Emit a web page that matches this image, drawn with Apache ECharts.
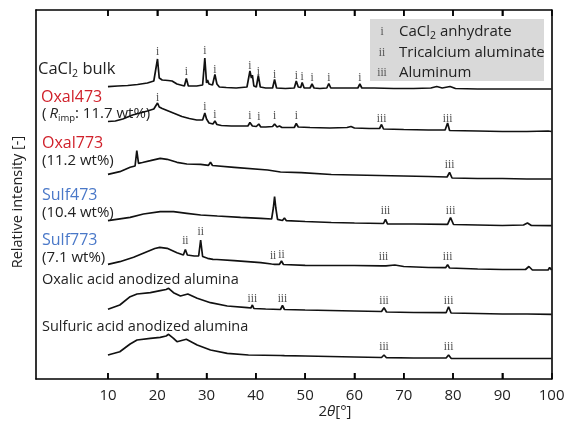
<!DOCTYPE html>
<html><head><meta charset="utf-8">
<script src="https://cdn.jsdelivr.net/npm/echarts@6/dist/echarts.min.js"></script>
<style>html,body{margin:0;padding:0;background:#fff}#c{width:569px;height:425px}</style>
</head><body><div id="c"></div>
<script>
// ---- data (2θ in degrees, relative intensity in arbitrary units) ----
const xTicks = [10, 20, 30, 40, 50, 60, 70, 80, 90, 100];
const traceNames = ['CaCl2 bulk', 'Oxal473', 'Oxal773', 'Sulf473', 'Sulf773', 'Oxalic acid anodized alumina', 'Sulfuric acid anodized alumina'];
const offsets = [280, 240, 195, 150, 105, 60, 15];

const caclBulk = [[10,12.3],[12,13],[14,13.5],[16,14.5],[18,16],[19.3,18],[19.7,20],[20.05,40],[20.4,21],[21,19],[22.2,18.5],[22.6,20],[23,18],[24,15],[25.5,13],[25.9,20.5],[26.3,13],[28,13],[29.2,14],[29.65,41],[30.0,16],[30.2,19],[30.5,15],[30.8,16.5],[31.2,14],[31.7,24.5],[32.1,15],[32.6,12],[34,11.5],[36,11],[38.2,12],[38.5,20],[38.8,28],[39.1,21],[39.3,24],[39.6,13],[40.1,12],[40.5,23.5],[40.9,12],[42,11],[43.4,11],[43.8,19.5],[44.2,11],[46,10.5],[47.8,11],[48.2,18],[48.6,12],[49.1,11.5],[49.4,16.5],[49.8,11],[51.0,11],[51.4,15],[51.8,11],[53,10.5],[54.4,11],[54.8,15.5],[55.2,11],[58,11],[60.7,11],[61.1,15],[61.5,11],[64,11],[68,10.5],[72,10.5],[75.5,11],[76.7,12.5],[77.8,11],[79.4,12.5],[80.5,10.5],[85,10],[90,10],[95,10],[100,10]];
const oxal473 = [[10,17.5],[11.5,18],[13,20],[15,24],[16.5,26],[18,28],[19.3,30],[19.7,32],[20.05,36],[20.4,32],[21,30.5],[22,28.5],[23.5,25.5],[25,22.5],[26.5,20.5],[28,19],[29.2,19],[29.65,26],[30.0,20],[30.5,16],[31.3,15],[31.7,18],[32.1,14.5],[33,13.5],[35,13],[37,13],[38.4,13],[38.8,16.5],[39.3,13],[40.1,12.5],[40.6,15],[41,12],[42,12],[43.4,12.5],[43.8,15],[44.3,12],[44.8,13],[45.3,11.5],[47.8,11.5],[48.2,15.5],[48.6,12],[51,11.5],[55,11],[58.5,11.5],[59.3,12.5],[60,11],[63,10.5],[65.1,10.5],[65.5,14.5],[65.9,10],[70,9.5],[75,9],[78.4,9],[78.9,16],[79.3,8.5],[85,8],[90,7.5],[95,7.5],[99.3,8],[99.6,10],[100,7.5]];
const oxal773 = [[10,9.7],[12.4,12.3],[14.5,16.7],[15.5,18],[15.85,33.3],[16.2,20.7],[17,21.5],[18.6,23.3],[20.6,25.7],[22,24.7],[24,21.7],[26,20],[28.8,19.7],[30.4,18.7],[30.8,21.7],[31.2,18.5],[35.6,16.7],[42.4,14],[45,12],[49.2,11.3],[55.3,9.5],[60,9],[65,8.5],[70,8],[75,7.5],[78.8,7],[79.3,11.7],[79.8,6],[85,5.5],[90,5.5],[95,5],[100,5]];
const sulf473 = [[10,8.3],[14.5,11.7],[17.2,15],[20.6,17.3],[23.3,17.3],[26,15.7],[28.8,14],[32.2,13],[36.9,11.7],[41,10.7],[43.2,10],[43.55,21],[43.8,32.3],[44.05,21],[44.4,9.7],[45.4,8.5],[45.8,11],[46.2,8.3],[50,7.5],[55.3,6.5],[60,6],[65.9,5.5],[66.3,9.7],[66.7,5.2],[72,5],[78.9,4.7],[79.5,11.3],[80.1,4.5],[85,4],[90,3.5],[94.3,4],[95.1,6],[95.9,3.5],[100,3.3]];
const sulf773 = [[10,9.7],[12.4,12.3],[15.2,16.7],[17.9,22.3],[19.5,25.5],[20.5,26.7],[22,25.7],[24,21.3],[25.3,19],[25.7,24.5],[26.1,19],[27.5,18],[28.4,18],[28.8,34],[29.2,17.5],[30.2,15.7],[31.3,14.7],[31.7,16.3],[32.1,14.5],[35.6,13.3],[41,11.3],[43.2,10],[43.5,11.5],[43.8,9.7],[44.8,9.7],[45.2,13],[45.6,9.5],[50,8.7],[55.3,8.5],[60,8.5],[65.5,8.2],[65.9,9.5],[66.4,8.2],[68.2,9],[70,7.5],[75,6.5],[78.5,6.3],[78.9,9.3],[79.3,6],[85,5],[90,4.5],[94.7,4.5],[95.4,7.5],[96.1,4],[99.3,4],[99.6,6.5],[100,4]];
const oxalicAlumina = [[10,9.7],[12.4,14],[14.5,22.3],[15.9,25],[18.6,26.3],[20.6,28.3],[21.8,29.5],[22.3,30.7],[23.3,26.3],[24.7,23],[26.2,25],[28.1,20.7],[30.8,16.3],[34.2,13],[38.3,11.3],[39.0,11],[39.3,14],[39.6,10.5],[42,10],[45.0,9.5],[45.4,13.5],[45.8,9.5],[50,9],[55,8.5],[60,8],[65.5,7.5],[66.0,11.3],[66.5,7],[72,6.5],[78.6,6.3],[79.1,12.3],[79.6,6],[85,5.5],[90,5],[95,5],[100,4.7]];
const sulfuricAlumina = [[10,9],[12.4,12.3],[14.5,20],[15.9,24],[18.6,25.7],[20.6,26.7],[21.8,28],[22.3,29.7],[23.3,25.7],[24.0,22.3],[25.9,24.7],[28.1,19],[30.8,14],[34.2,10.7],[38.5,9],[45,8.5],[45.4,9.5],[45.8,8.3],[50,8],[55,7.5],[60,7],[65.5,6.5],[66.0,9],[66.5,6.3],[72,6],[78.6,6],[79.1,9],[79.6,5.7],[85,5.5],[90,5.5],[100,5.5]];
const traces = [caclBulk, oxal473, oxal773, sulf473, sulf773, oxalicAlumina, sulfuricAlumina];

// peak assignment marks: [2θ, intensity of the mark, text]
const marksBulk = [[20.05,47.5,'i'],[25.9,27,'i'],[29.65,48,'i'],[31.7,29,'i'],[38.8,33,'i'],[40.5,27,'i'],[43.8,24.5,'i'],[48.2,23.5,'i'],[49.4,22,'i'],[51.4,21.5,'i'],[54.8,21.5,'i'],[61.1,21.5,'i']];
const marksOxal473 = [[20.05,41.5,'i'],[29.65,32,'i'],[31.7,24.5,'i'],[38.8,23.5,'i'],[40.6,22,'i'],[43.8,23,'i'],[48.2,23,'i'],[65.5,20.5,'iii'],[78.9,20.5,'iii']];
const marksOxal773 = [[79.3,19.3,'iii']];
const marksSulf473 = [[66.3,17.7,'iii'],[79.5,18.5,'iii']];
const marksSulf773 = [[25.7,33.2,'ii'],[28.8,42.3,'ii'],[43.5,18,'ii'],[45.2,19,'ii'],[65.9,17.3,'iii'],[78.9,17,'iii']];
const marksOxalic = [[39.3,20,'iii'],[45.4,20,'iii'],[66.0,18.2,'iii'],[79.1,18.2,'iii']];
const marksSulfuric = [[66.0,17.3,'iii'],[79.1,17.3,'iii']];
const marks = [marksBulk, marksOxal473, marksOxal773, marksSulf473, marksSulf773, marksOxalic, marksSulfuric];

const legendKeys = ['i', 'ii', 'iii'];
const legendNames = ['CaCl{s|2} anhydrate', 'Tricalcium aluminate', 'Aluminum'];

// ---- chart ----
const FONT = 'Open Sans';
const RED = '#d0202a', BLUE = '#4a78c8', DARK = '#222';
const X_MIN = -4.6, X_MAX = 100, Y_MIN = 0, Y_MAX = 369;
const TICK_PX = 6;
const chart = echarts.init(document.getElementById('c'), null, {renderer: 'canvas'});

const series = traces.map((t, i) => ({
  type: 'line', name: traceNames[i], xAxisIndex: 0, yAxisIndex: 0,
  data: t.map(p => [p[0], p[1] + offsets[i]]),
  symbol: 'none', silent: true, animation: false,
  lineStyle: {color: '#111', width: 1.7}
}));
const markData = [];
marks.forEach((arr, i) => arr.forEach(m => markData.push({name: m[2], value: [m[0], m[1] + offsets[i]]})));
series.push({
  type: 'scatter', xAxisIndex: 0, yAxisIndex: 0, data: markData, symbolSize: 0, silent: true, animation: false,
  label: {show: true, formatter: '{b}', position: [0, 0], align: 'center', verticalAlign: 'middle',
          fontFamily: 'Liberation Serif', fontSize: 11.5, color: DARK}
});

function frameLine() { return {show: true, onZero: false, lineStyle: {color: '#000', width: 1.6}}; }
function inTick() { return {show: true, inside: true, length: TICK_PX, customValues: xTicks.slice(), lineStyle: {color: '#000', width: 1.5}}; }

function label(x, y, text, color, size, rich) {
  return {type: 'text', x: x, y: y, silent: true,
    style: {text: text, fill: color, font: size + 'px "' + FONT + '"', verticalAlign: 'middle', align: 'left',
            lineHeight: 20, rich: rich || {}}};
}
const subRich = {s: {fontSize: 10.5, fontFamily: FONT, lineHeight: 11, verticalAlign: 'bottom', fill: DARK}};
const rimpRich = {
  r: {fontStyle: 'italic', fontSize: 15, fontFamily: FONT, fill: DARK, padding: [0, 0, 0, 3]},
  s: {fontSize: 9.5, fontFamily: FONT, lineHeight: 10, verticalAlign: 'bottom', fill: DARK}
};

const graphic = [
  label(38, 69.5, 'CaCl{s|2} bulk', DARK, 16.5, subRich),
  label(41, 97.5, 'Oxal473', RED, 16),
  label(42, 113.5, '({r|R}{s|imp}: 11.7 wt%)', DARK, 15, rimpRich),
  label(42, 143.3, 'Oxal773', RED, 16),
  label(42, 161, '(11.2 wt%)', DARK, 15),
  label(42, 195, 'Sulf473', BLUE, 16),
  label(42, 212.5, '(10.4 wt%)', DARK, 15),
  label(42, 240, 'Sulf773', BLUE, 16),
  label(42, 257.5, '(7.1 wt%)', DARK, 15),
  label(42, 280, traceNames[5], DARK, 14.5),
  label(42, 326.5, traceNames[6], DARK, 14.5),
  {type: 'rect', shape: {x: 370, y: 19, width: 174, height: 62}, style: {fill: '#d9d9d9'}, silent: true, z: 0}
];
legendKeys.forEach((k, i) => {
  const y = 32 + i * 20.5;
  graphic.push({type: 'text', x: 382, y: y, silent: true, z: 10,
    style: {text: k, fill: '#555', font: '11.5px "Liberation Serif"', align: 'center', verticalAlign: 'middle'}});
  graphic.push(Object.assign(label(399, y, legendNames[i], DARK, 15, subRich), {z: 10}));
});
graphic.push({type: 'text', x: 18, y: 202, rotation: Math.PI / 2, silent: true,
  style: {text: 'Relative intensity [-]', fill: DARK, font: '14.5px "' + FONT + '"', align: 'center', verticalAlign: 'middle'}});
graphic.push({type: 'text', x: 335, y: 412, silent: true,
  style: {text: '2{t|θ}[°]', fill: DARK, font: '15px "' + FONT + '"', align: 'center', verticalAlign: 'middle',
          rich: {t: {fontStyle: 'italic', fontSize: 15, fontFamily: FONT, fill: DARK}}}});

chart.setOption({
  animation: false,
  backgroundColor: '#fff',
  grid: {left: 36, right: 17.4, top: 10, bottom: 46},
  xAxis: [
    {type: 'value', min: X_MIN, max: X_MAX, position: 'bottom', axisLine: frameLine(), axisTick: inTick(),
     axisLabel: {customValues: xTicks.slice(), fontSize: 15, color: DARK, margin: 9, fontFamily: FONT},
     splitLine: {show: false}},
    {type: 'value', min: X_MIN, max: X_MAX, position: 'top', axisLine: frameLine(), axisTick: inTick(),
     axisLabel: {show: false}, splitLine: {show: false}}
  ],
  yAxis: [
    {type: 'value', min: Y_MIN, max: Y_MAX, position: 'left', axisLine: frameLine(), axisTick: {show: false},
     axisLabel: {show: false}, splitLine: {show: false}},
    {type: 'value', min: Y_MIN, max: Y_MAX, position: 'right', axisLine: frameLine(), axisTick: {show: false},
     axisLabel: {show: false}, splitLine: {show: false}}
  ],
  graphic: graphic,
  series: series
});

// tick marks placed through the x scale (pixel positions obtained from the axis)
const tickMarks = [];
xTicks.filter(v => v < X_MAX).forEach(v => {
  const b = chart.convertToPixel({gridIndex: 0}, [v, Y_MIN]);
  const t = chart.convertToPixel({gridIndex: 0}, [v, Y_MAX]);
  tickMarks.push({type: 'rect', silent: true, z: 100,
    shape: {x: b[0] - 0.75, y: b[1] - TICK_PX, width: 1.5, height: TICK_PX}, style: {fill: '#000'}});
  tickMarks.push({type: 'rect', silent: true, z: 100,
    shape: {x: t[0] - 0.75, y: t[1], width: 1.5, height: TICK_PX}, style: {fill: '#000'}});
});
chart.setOption({graphic: graphic.concat(tickMarks)});
</script></body></html>
